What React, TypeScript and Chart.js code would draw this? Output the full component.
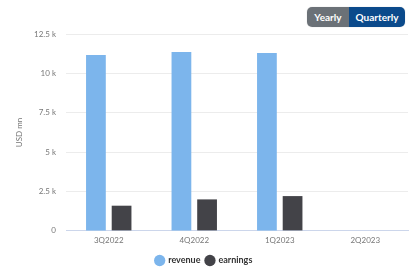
import React, { useEffect, useRef } from "react";
import { Chart, registerables } from "chart.js";

Chart.register(...registerables);

const categories = ["3Q2022", "4Q2022", "1Q2023", "2Q2023"];
const revenue = [11170, 11350, 11300, null];
const earnings = [1600, 2000, 2210, null];
const yTicks = [0, 2500, 5000, 7500, 10000, 12500];

export default function App() {
  const ref = useRef<HTMLCanvasElement>(null);
  useEffect(() => {
    if (!ref.current) return;
    const font = "Lato, 'Open Sans', sans-serif";
    const chart = new Chart(ref.current, {
      type: "bar",
      data: {
        labels: categories,
        datasets: [
          {
            label: "revenue",
            data: revenue,
            backgroundColor: "#7cb5ec",
            borderWidth: 0,
            categoryPercentage: 0.6,
            barPercentage: 0.77,
          },
          {
            label: "earnings",
            data: earnings,
            backgroundColor: "#434348",
            borderWidth: 0,
            categoryPercentage: 0.6,
            barPercentage: 0.77,
          },
        ],
      },
      options: {
        animation: false,
        responsive: false,
        layout: { padding: { top: 34, right: 6, left: 0, bottom: 0 } },
        plugins: {
          tooltip: { enabled: false },
          legend: {
            position: "bottom",
            labels: {
              usePointStyle: true,
              pointStyle: "circle",
              boxWidth: 8,
              boxHeight: 8,
              padding: 5.5,
              color: "#333333",
              font: { family: font, size: 9, weight: "bold" },
            },
          },
        },
        scales: {
          x: {
            grid: { display: false, drawTicks: false },
            border: { color: "#ccd6eb" },
            ticks: {
              color: "#777777",
              padding: 5,
              font: { family: font, size: 8 },
              maxRotation: 0,
            },
          },
          y: {
            min: 0,
            max: 12500,
            afterFit: (s: any) => {
              s.width = 66;
            },
            afterBuildTicks: (s: any) => {
              s.ticks = yTicks.map((v) => ({ value: v }));
            },
            grid: { color: "#ececec", drawTicks: false },
            border: { display: false },
            title: {
              display: true,
              text: "USD mn",
              color: "#777777",
              font: { family: font, size: 8 },
              padding: { top: 15, bottom: 0 },
            },
            ticks: {
              color: "#777777",
              padding: 10,
              font: { family: font, size: 8 },
              callback: (v: any) => (v === 0 ? "0" : v / 1000 + " k"),
            },
          },
        },
      },
    });
    return () => chart.destroy();
  }, []);

  const btn: React.CSSProperties = {
    display: "inline-flex",
    alignItems: "center",
    justifyContent: "center",
    height: 20,
    color: "#ffffff",
    fontFamily: "Lato, 'Open Sans', sans-serif",
    fontWeight: "bold",
    fontSize: 10,
  };

  return (
    <div style={{ position: "fixed", left: 0, top: 0, width: 414, height: 275, background: "#ffffff" }}>
      <canvas ref={ref} width={414} height={275} style={{ display: "block" }} />
      <div
        style={{
          position: "absolute",
          left: 307,
          top: 7,
          display: "flex",
          borderRadius: 5,
          overflow: "hidden",
          boxShadow: "0 0 1px rgba(0,0,0,0.3)",
        }}
      >
        <div style={{ ...btn, width: 42, background: "#6b7177" }}>Yearly</div>
        <div style={{ ...btn, width: 56, background: "#0b4a8b" }}>Quarterly</div>
      </div>
    </div>
  );
}
